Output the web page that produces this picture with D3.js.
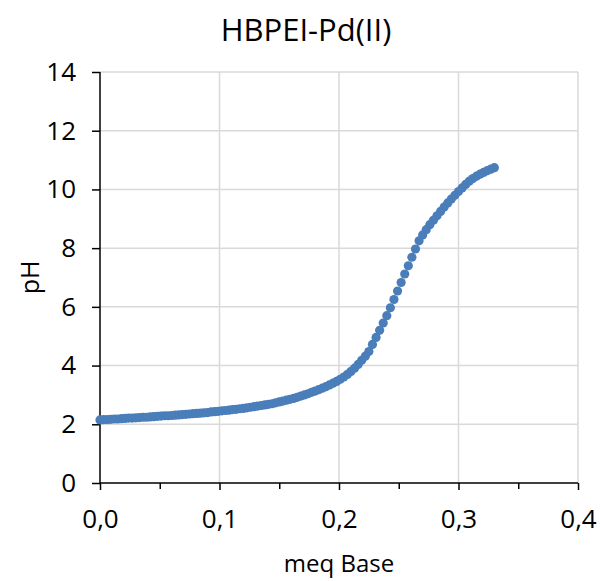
<!DOCTYPE html>
<html>
<head>
<meta charset="utf-8">
<script src="https://cdn.jsdelivr.net/npm/d3@7"></script>
<style>
    body { margin: 0; background: #fff; }
    text { font-family: "Open Sans", sans-serif; fill: #000; }
</style>
</head>
<body>
<div id="chartContainer"></div>
<script>
// titration readings
const meqBase = [
    0.000, 0.003, 0.006, 0.009, 0.012, 0.015, 0.018, 0.021, 0.024, 0.027,
    0.030, 0.033, 0.036, 0.039, 0.042, 0.045, 0.048, 0.051, 0.054, 0.057,
    0.060, 0.063, 0.066, 0.069, 0.072, 0.075, 0.078, 0.081, 0.084, 0.087,
    0.090, 0.093, 0.096, 0.099, 0.102, 0.105, 0.108, 0.111, 0.114, 0.117,
    0.120, 0.123, 0.126, 0.129, 0.132, 0.135, 0.138, 0.141, 0.144, 0.147,
    0.150, 0.153, 0.156, 0.159, 0.162, 0.165, 0.168, 0.171, 0.174, 0.177,
    0.180, 0.183, 0.186, 0.189, 0.192, 0.195, 0.198, 0.201, 0.204, 0.207,
    0.210, 0.213, 0.216, 0.219, 0.222, 0.225, 0.228, 0.231, 0.234, 0.237,
    0.240, 0.243, 0.246, 0.249, 0.252, 0.255, 0.258, 0.261, 0.264, 0.267,
    0.270, 0.273, 0.276, 0.279, 0.282, 0.285, 0.288, 0.291, 0.294, 0.297,
    0.300, 0.303, 0.306, 0.309, 0.312, 0.315, 0.318, 0.321, 0.324, 0.327,
    0.330
];
const pH = [
    2.15, 2.16, 2.16, 2.17, 2.18, 2.18, 2.19, 2.20, 2.21, 2.21,
    2.22, 2.23, 2.24, 2.24, 2.25, 2.26, 2.27, 2.28, 2.29, 2.29,
    2.30, 2.31, 2.32, 2.33, 2.34, 2.35, 2.36, 2.37, 2.38, 2.39,
    2.40, 2.42, 2.43, 2.44, 2.46, 2.47, 2.48, 2.50, 2.51, 2.53,
    2.54, 2.56, 2.58, 2.60, 2.62, 2.64, 2.66, 2.68, 2.70, 2.73,
    2.76, 2.79, 2.82, 2.85, 2.88, 2.92, 2.96, 3.00, 3.04, 3.09,
    3.13, 3.18, 3.23, 3.28, 3.34, 3.40, 3.46, 3.53, 3.61, 3.70,
    3.80, 3.91, 4.04, 4.18, 4.32, 4.48, 4.72, 4.96, 5.20, 5.45,
    5.70, 5.97, 6.25, 6.54, 6.83, 7.12, 7.40, 7.69, 7.97, 8.25,
    8.45, 8.63, 8.80, 8.95, 9.10, 9.25, 9.40, 9.54, 9.67, 9.80,
    9.93, 10.05, 10.17, 10.28, 10.37, 10.45, 10.52, 10.58, 10.64, 10.69,
    10.74
];
const xTicks = [0, 0.1, 0.2, 0.3, 0.4];
const xMinorTicks = [0.05, 0.15, 0.25, 0.35];
const yTicks = [0, 2, 4, 6, 8, 10, 12, 14];
const chartTitle = "HBPEI-Pd(II)";
const xTitle = "meq Base";
const yTitle = "pH";

const width = 600;
const height = 581;
const plot = {left: 100, right: 578, top: 72, bottom: 483};
const dotColor = "#4a7ebb";
const gridColor = "#d9d9d9";

const svg = d3.select("#chartContainer")
    .append("svg")
    .attr("width", width)
    .attr("height", height);

const x = d3.scaleLinear().domain([0, 0.4]).range([plot.left, plot.right]);
const y = d3.scaleLinear().domain([0, 14]).range([plot.bottom, plot.top]);

// decimal comma, like the original
const commaFormat = d3.formatLocale({decimal: ",", thousands: ".", grouping: [3], currency: ["", ""]}).format(".1f");

// gridlines
svg.append("g")
    .selectAll("line")
    .data(yTicks.slice(1))
    .enter()
    .append("line")
    .attr("x1", plot.left)
    .attr("x2", plot.right)
    .attr("y1", d => y(d))
    .attr("y2", d => y(d))
    .style("stroke", gridColor)
    .style("stroke-width", 1.5);

svg.append("g")
    .selectAll("line")
    .data(xTicks.slice(1))
    .enter()
    .append("line")
    .attr("x1", d => x(d))
    .attr("x2", d => x(d))
    .attr("y1", plot.top)
    .attr("y2", plot.bottom)
    .style("stroke", gridColor)
    .style("stroke-width", 1.5);

// axes
const xAxis = svg.append("g")
    .attr("transform", `translate(0,${plot.bottom})`)
    .call(d3.axisBottom(x).tickValues(xTicks).tickFormat(commaFormat).tickSize(7).tickPadding(20));

svg.append("g")
    .attr("transform", `translate(0,${plot.bottom})`)
    .call(d3.axisBottom(x).tickValues(xMinorTicks).tickFormat("").tickSize(6))
    .select(".domain").remove();

const yAxis = svg.append("g")
    .attr("transform", `translate(${plot.left},0)`)
    .call(d3.axisLeft(y).tickValues(yTicks).tickSize(8).tickPadding(16));

svg.selectAll(".domain, .tick line")
    .style("stroke", "#000")
    .style("stroke-width", 1.5);
xAxis.select(".domain").attr("d", `M${plot.left},0H${plot.right}`);
yAxis.select(".domain").attr("d", `M0,${plot.top}V${plot.bottom}`);

svg.selectAll(".tick text")
    .style("font-family", "'Open Sans', sans-serif")
    .style("font-size", "26px")
    .style("fill", "#000");

// points
svg.append("g")
    .selectAll("circle")
    .data(meqBase.map((m, i) => ({m: m, p: pH[i]})))
    .enter()
    .append("circle")
    .attr("cx", d => x(d.m))
    .attr("cy", d => y(d.p))
    .attr("r", 4.6)
    .attr("fill", dotColor);

// titles
svg.append("text")
    .attr("x", 306)
    .attr("y", 41)
    .attr("text-anchor", "middle")
    .style("font-size", "31px")
    .text(chartTitle);

svg.append("text")
    .attr("x", (plot.left + plot.right) / 2)
    .attr("y", 572)
    .attr("text-anchor", "middle")
    .style("font-size", "24px")
    .text(xTitle);

svg.append("text")
    .attr("transform", `translate(39,${(plot.top + plot.bottom) / 2}) rotate(-90)`)
    .attr("text-anchor", "middle")
    .style("font-size", "25px")
    .text(yTitle);
</script>
</body>
</html>
